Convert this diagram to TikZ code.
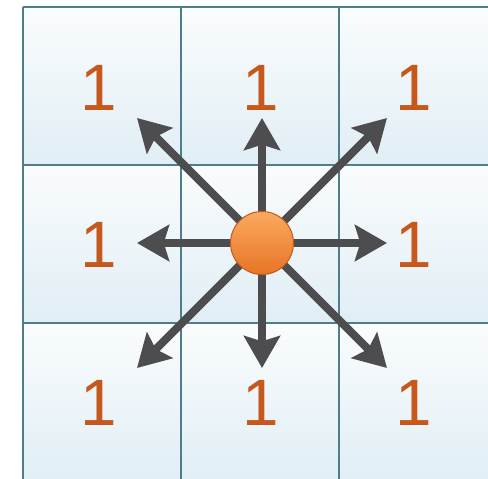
\documentclass[tikz,border=0pt]{standalone}
\usepackage{fontspec}
\setmainfont{Liberation Sans}
\usepackage{tikz}
\usetikzlibrary{arrows.meta,positioning,calc}
\definecolor{gridline}{RGB}{78,125,140}
\definecolor{celltop}{RGB}{250,252,253}
\definecolor{cellbot}{RGB}{224,238,245}
\definecolor{numcol}{RGB}{198,88,28}
\definecolor{arrcol}{RGB}{77,77,79}
\definecolor{balltop}{RGB}{250,170,95}
\definecolor{ballbot}{RGB}{232,116,38}
\definecolor{ballrim}{RGB}{190,92,25}
\tikzset{
  cellsh/.style={top color=celltop, bottom color=cellbot},
  gline/.style={draw=gridline, line width=0.055cm},
  numlab/.style={text=numcol, inner sep=0pt, font=\fontsize{56}{56}\selectfont},
  mvarr/.style={-{Stealth[length=0.96cm, width=1.08cm, inset=0.16cm]}, arrcol, line width=0.24cm},
  ball/.style={circle, draw=ballrim, line width=0.03cm, top color=balltop, bottom color=ballbot,
               minimum size=1.89cm, inner sep=0pt},
}

\begin{document}
\begin{tikzpicture}[x=0.03cm, y=-0.03cm]
    \useasboundingbox (0,0) rectangle (488,478);
    \clip (0,0) rectangle (488,478);
    \fill[white] (0,0) rectangle (488,478);
    % cells
    \foreach \i in {0,1,2}
      \foreach \j in {0,1,2}
        \shade[cellsh] (23+158*\i,7+158*\j) rectangle (181+158*\i,165+158*\j);
    \foreach \x in {23,181,339,497}
      \draw[gline] (\x,7) -- (\x,481);
    \foreach \y in {7,165,323,481}
      \draw[gline] (23,\y) -- (497,\y);
    % costs
    \node[numlab] (n1) at (99,88) {1};
    \node[numlab] (n2) at (261,88) {1};
    \node[numlab] (n3) at (414,88) {1};
    \node[numlab] (n4) at (99,245) {1};
    \node[numlab] (n6) at (414,245) {1};
    \node[numlab] (n7) at (99,403) {1};
    \node[numlab] (n8) at (261,403) {1};
    \node[numlab] (n9) at (414,403) {1};
    % moves
    \coordinate (o) at (262,243);
    \coordinate (tn) at (262,118);
    \coordinate (ts) at (262,368);
    \coordinate (tw) at (137,243);
    \coordinate (te) at (387,243);
    \coordinate (tnw) at (137,118);
    \coordinate (tne) at (387,118);
    \coordinate (tsw) at (137,368);
    \coordinate (tse) at (387,368);
    \foreach \t in {tn,ts,tw,te,tnw,tne,tsw,tse}
      \draw[mvarr] (o) -- (\t);
    \node[ball] (start) at (o) {};
  \end{tikzpicture}
\end{document}
